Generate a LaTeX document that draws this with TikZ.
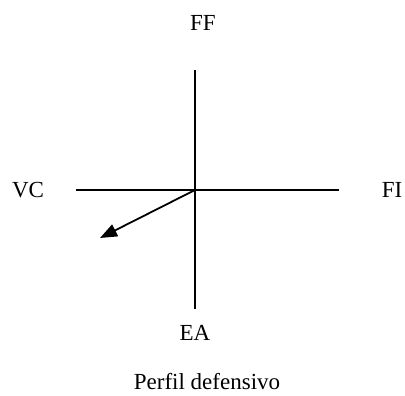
\documentclass[tikz,border=0pt]{standalone}
\usepackage{fontspec}
\setmainfont{Liberation Serif}
\usetikzlibrary{arrows.meta}
\begin{document}
\begin{tikzpicture}[x=1pt,y=-1pt,
  lbl/.style={inner sep=0pt,font=\fontsize{23}{27}\selectfont},
  axis/.style={line width=1.8pt},
  vec/.style={line width=1.8pt,-{Triangle[length=17pt,width=13pt]}}]
\useasboundingbox (0,0) rectangle (405,396);
\coordinate (o) at (195,190);
\coordinate (top) at (195,70);
\coordinate (bot) at (195,309);
\coordinate (lft) at (76,190);
\coordinate (rgt) at (339,190);
\coordinate (tip) at (100,238);
\draw[axis] (top) -- (bot);
\draw[axis] (lft) -- (rgt);
\draw[vec] (o) -- (tip);
\node[lbl] (ff) at (203,23) {FF};
\node[lbl] (vc) at (28,190) {VC};
\node[lbl] (fi) at (392,190) {FI};
\node[lbl] (ea) at (195,333) {EA};
\node[lbl] (pd) at (207,382) {Perfil defensivo};
\end{tikzpicture}
\end{document}
